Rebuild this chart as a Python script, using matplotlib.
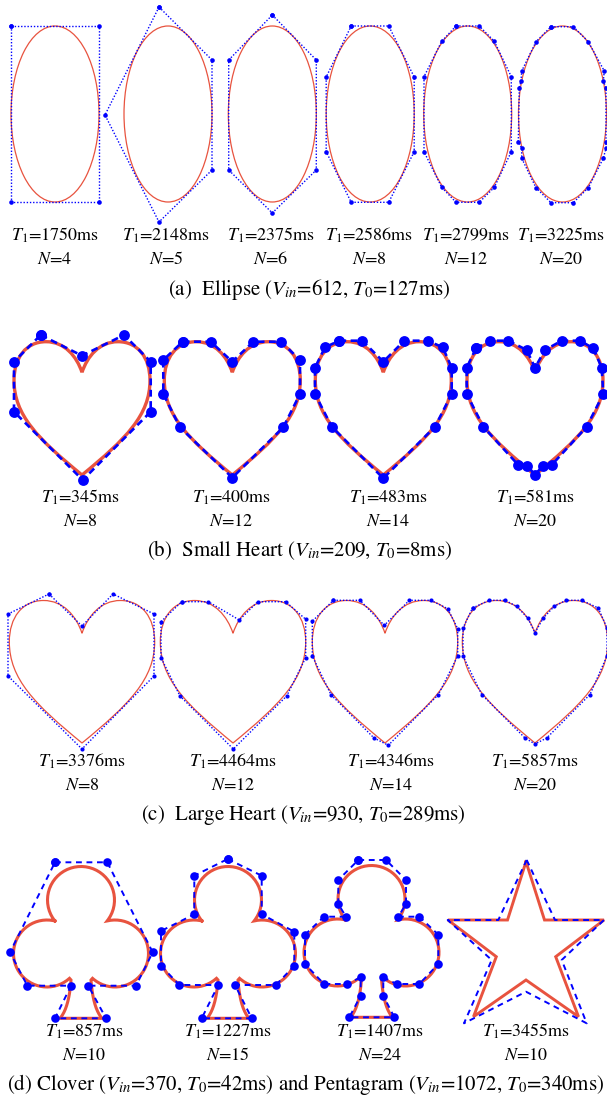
import numpy as np
import matplotlib
matplotlib.use('Agg')
import matplotlib.pyplot as plt
from matplotlib.path import Path
from matplotlib.patches import Ellipse, PathPatch

plt.rcParams['font.family'] = ['STIXGeneral', 'DejaVu Serif']
plt.rcParams['mathtext.fontset'] = 'stix'

RED = '#e8533f'
BLUE = '#0000ff'

# ------------------------------------------------------------------ data
# (a) ellipse: semi axes and control polygons (local coords, px, y down)
ELL_SEMI = (44, 88)
ELL_T1 = [1750, 2148, 2375, 2586, 2799, 3225]
ELL_N = [4, 5, 6, 8, 12, 20]
ELL_P4 = [(-44, -88), (44, -88), (44, 88), (-44, 88)]
ELL_P5 = [(-9, -107), (44, -54), (44, 56), (-9, 108), (-63, 1)]
ELL_P6 = [(0, -99), (44, -54), (44, 56), (0, 99), (-43.6, 56), (-43.6, -54)]
ELL_P8 = [(-19, -88), (18.5, -88), (44, -37), (44, 37.7), (18.5, 88.3),
          (-19, 88.3), (-44, 37.7), (-44, -37)]
ELL_P12 = [(-11.7, -88), (11.6, -88), (26.6, -72.7), (43.6, -37.3), (43.6, 37.7),
           (26.6, 73.3), (11.6, 88.3), (-11.7, 88.3), (-26, 73.3), (-43.7, 37.7),
           (-43.7, -37.3), (-26, -72.7)]
ELL_P20 = [(-11.5, -87.3), (10.8, -87.3), (25.8, -72.3), (41.8, -43), (40.8, -33),
           (43.5, -26.3), (43.5, 27.7), (43.5, 34.3), (40.8, 44.3), (25.8, 73.7),
           (10.8, 88.7), (-11.5, 88.7), (-26.5, 73.7), (-40.8, 44.3), (-40.8, 34.3),
           (-44.2, 27.7), (-43.2, -26.3), (-41.5, -33), (-40.8, -43), (-26.5, -72.3)]

# heart outline: cubic Bezier control points of right half (u, v), unit height
HEART_R = [(0, 0.23), (0.04, 0.11), (0.13, 0.0), (0.27, 0.0),
           (0.42, 0.0), (0.51, 0.12), (0.51, 0.29),
           (0.51, 0.55), (0.33, 0.73), (0, 1)]

# (b) small heart
SH_T1 = [345, 400, 483, 581]
SH_N = [8, 12, 14, 20]
SH_P8 = [(-41.3, -6.7), (0, 14), (42, -6.7), (68.7, 20), (68.7, 70), (0.7, 138.3),
         (-68, 70), (-68, 20)]
SH_P12 = [(-49.6, 0), (-21.6, 0), (0, 20), (21, 0), (48.7, 0), (67.7, 18.3),
          (67.7, 52.3), (51, 85.6), (0, 136), (-52.3, 85.6), (-69, 52.3), (-69, 18.3)]
SH_P14 = [(-44, -1), (-21, -1), (0, 20), (21, -1), (44.4, -1), (59.4, 5.6),
          (68.4, 26), (68.4, 52.3), (51.7, 85), (0, 136.6), (-51.6, 85), (-68.3, 52.3),
          (-68.3, 26), (-58.3, 5.6)]
SH_P20 = [(-59, 6.6), (-45, -1), (-26.7, -1), (-8.3, 8.3), (0, 26), (10, 8.3),
          (26.7, -1), (45, -1), (58.3, 6.6), (66.7, 26), (68.3, 52.3), (51.7, 85),
          (17, 123), (8, 124), (0, 133), (-8, 124), (-17, 123), (-51.7, 85),
          (-68.3, 52.3), (-68.3, 26)]

# (c) large heart
LH_T1 = [3376, 4464, 4346, 5857]
LH_N = [8, 12, 14, 20]
LH_P8 = [(-33, -6.5), (0, 25.5), (31, -6.5), (72, 13.5), (72, 75.5), (0, 148.5),
         (-74, 75.5), (-74, 13.5)]
LH_P12 = [(-51.3, 1.2), (-24.7, 1.2), (6.3, 19.5), (24.7, 1.2), (52.7, 1.2),
          (72.7, 18.8), (72.7, 57.2), (53.7, 95.5), (0.3, 148.5), (-53, 95.5),
          (-72, 57.2), (-72, 21.2)]
LH_P14 = [(-51.7, -0.2), (-25, -0.2), (-0.7, 24.8), (24.3, -0.2), (46, -0.2),
          (62.7, 8.2), (72.7, 28.2), (72.7, 55.5), (53.3, 94.2), (3.3, 144.8),
          (-11, 137.5), (-54, 94.2), (-72.7, 55.5), (-72.7, 20.8)]
LH_P20 = [(-62.5, 7.5), (-45.7, -0.2), (-30, -0.2), (-18.3, 5.8), (-7.3, 17.5),
          (0, 32.2), (8.3, 17.5), (19.3, 5.8), (31, -0.2), (46.7, -0.2), (63.3, 7.5),
          (72, 27.5), (72, 55.5), (55, 94), (11.7, 137.5), (0, 143.5), (-10, 137.5),
          (-53.3, 94), (-72, 55.5), (-72, 27.5)]

# (d) clover geometry (px): lobe radius, lobe centres, stem corners
CLOVER_R = 33.5
CLOVER_TOP = (0, 0)
CLOVER_SIDE = (34, 53.5)
CLOVER_STEM_TOP = (10, 80)
CLOVER_STEM_BOT = (21, 118.3)
CLOVER_STEM_CTRL = (12, 108)
CL_T1 = [857, 1227, 1407]
CL_N = [10, 15, 24]
CL_P10 = [(-26, -37.7), (26.3, -37.7), (71.7, 52.3), (55, 85.7), (7.3, 85.7),
          (25, 118.3), (-26, 118.3), (-10, 85.7), (-53.7, 85.7), (-71, 52.3)]
CL_P15 = [(-0.3, -41), (33.7, -24.3), (33.7, 14.3), (66.3, 31.7), (66.3, 65.7),
          (48, 85), (7, 85), (23.7, 118.3), (-26.3, 118.3), (-9.7, 85), (-48.7, 85),
          (-67, 65.7), (-67, 31), (-33.7, 14.3), (-33.7, -24.3)]
CL_P24 = [(-13.2, -39), (14.5, -39), (34.5, -19), (34.5, 5), (26.8, 17.7),
          (47.8, 17.7), (66.8, 35.7), (66.8, 65), (47.8, 85), (25.2, 85),
          (11.8, 78.3), (11.8, 96.7), (22.8, 118.3), (-22.2, 118.3), (-10.8, 96.7),
          (-10.8, 78.3), (-24.2, 85), (-47.5, 85), (-66.5, 65), (-66.5, 35.7),
          (-47.5, 17.7), (-25.5, 17.7), (-33.2, 5), (-33.2, -19)]

# pentagram
STAR_T1 = 3455
STAR_N = 10
STAR_RED = [(0, -58.3), (18.5, 0), (78, 0), (29.7, 36.7), (52.5, 96.7), (0, 60),
            (-52.5, 96.7), (-29.7, 36.7), (-78, 0), (-18.5, 0)]
STAR_BLUE = [(0.7, -60), (29, 0), (78, 0), (35.7, 40), (60.7, 103.3), (0, 71.7),
             (-62, 103.3), (-34.3, 40), (-78.3, 0), (-27.7, 0)]

# ------------------------------------------------------------------ layout
W, H = 607, 1099
fig = plt.figure(figsize=(W / 100, H / 100), dpi=100)
ax = fig.add_axes([0, 0, 1, 1])
ax.set_xlim(0, W)
ax.set_ylim(H, 0)
ax.axis('off')

LABEL_FS = 13
CAP_FS = 15


def poly(cx, cy, pts, lw, ms, dashes, close=True, markers=True):
    xs = [cx + p[0] for p in pts]
    ys = [cy + p[1] for p in pts]
    if close:
        xs = xs + xs[:1]
        ys = ys + ys[:1]
    ln, = ax.plot(xs, ys, color=BLUE, lw=lw, zorder=3, solid_capstyle='butt')
    ln.set_dashes(dashes)
    if markers:
        ax.plot(xs, ys, 'o', color=BLUE, ms=ms, mec='none', zorder=4)


def labels(cx, y1, y2, t1, n):
    ax.text(cx, y1, r'$T_1$=%dms' % t1, ha='center', va='baseline', fontsize=LABEL_FS)
    ax.text(cx, y2, r'$N$=%d' % n, ha='center', va='baseline', fontsize=LABEL_FS)


def heart_patch(cx, top, h, lw):
    left = [(-u, v) for (u, v) in HEART_R[::-1]][1:]
    pts = HEART_R + left
    verts = [(cx + u * h, top + v * h) for (u, v) in pts]
    codes = [Path.MOVETO] + [Path.CURVE4] * (len(verts) - 1)
    ax.add_patch(PathPatch(Path(verts, codes), fill=False, ec=RED, lw=lw, zorder=2))


def arc_pts(c, r, a0, a1, n=80):
    t = np.radians(np.linspace(a0, a1, n))
    return list(zip(c[0] + r * np.cos(t), c[1] + r * np.sin(t)))


def clover_outline(cx, cy):
    r = CLOVER_R
    T = np.array(CLOVER_TOP, float)
    R = np.array(CLOVER_SIDE, float)
    L = np.array((-CLOVER_SIDE[0], CLOVER_SIDE[1]), float)
    # outer intersection of top lobe with side lobes
    d = R - T
    dist = np.hypot(*d)
    m = T + d / 2
    hh = np.sqrt(max(r * r - (dist / 2) ** 2, 0))
    perp = np.array([d[1], -d[0]]) / dist
    cusp_r = m + hh * perp
    cusp_l = np.array([-cusp_r[0], cusp_r[1]])
    ang = lambda c, p: np.degrees(np.arctan2(p[1] - c[1], p[0] - c[0]))
    st_r = np.array(CLOVER_STEM_TOP, float)
    st_l = np.array((-st_r[0], st_r[1]))
    a0 = ang(T, cusp_l)
    a1 = ang(T, cusp_r) + 360
    pts = arc_pts(T, r, a0, a1)
    b0 = ang(R, cusp_r) % 360
    b1 = ang(R, st_r) % 360 + 360
    pts += arc_pts(R, r, b0, b1)
    pts.append(tuple(st_r))
    # stem right side (quadratic bezier)
    sb = np.array(CLOVER_STEM_BOT, float)
    sc = np.array(CLOVER_STEM_CTRL, float)
    for t in np.linspace(0, 1, 30):
        pts.append(tuple((1 - t) ** 2 * st_r + 2 * t * (1 - t) * sc + t ** 2 * sb))
    sb_l = np.array((-sb[0], sb[1]))
    sc_l = np.array((-sc[0], sc[1]))
    for t in np.linspace(0, 1, 30):
        pts.append(tuple((1 - t) ** 2 * sb_l + 2 * t * (1 - t) * sc_l + t ** 2 * st_l))
    c0 = ang(L, st_l) % 360
    c1 = ang(L, cusp_l) % 360
    if c1 < c0:
        c1 += 360
    pts += arc_pts(L, r, c0, c1)
    pts.append(pts[0])
    xs = [cx + p[0] for p in pts]
    ys = [cy + p[1] for p in pts]
    ax.plot(xs, ys, color=RED, lw=2.2, zorder=2, solid_joinstyle='miter')


# ---- row (a): ellipses
ELL_CX = [55, 168, 272.3, 370.2, 467.7, 562.5]
ELL_CY = 114
ELL_LBL_X = [55, 166, 271, 369, 466, 561]
for i, P in enumerate([ELL_P4, ELL_P5, ELL_P6, ELL_P8, ELL_P12, ELL_P20]):
    ax.add_patch(Ellipse((ELL_CX[i], ELL_CY), 2 * ELL_SEMI[0], 2 * ELL_SEMI[1],
                         fill=False, ec=RED, lw=0.9, zorder=2))
    poly(ELL_CX[i], ELL_CY, P, 1.0, 3.3, (1, 1.3))
    labels(ELL_LBL_X[i], 240.7, 263.5, ELL_T1[i], ELL_N[i])
ax.text(309, 295, r'(a)  Ellipse ($V_{in}$=612, $T_0$=127ms)', ha='center',
        va='baseline', fontsize=CAP_FS)

# ---- row (b): small hearts
SH_CX = [82, 232.3, 383.3, 535]
SH_TOP = 341.7
SH_H = 133.3
SH_LBL_X = [80, 231, 388, 535]
for i, P in enumerate([SH_P8, SH_P12, SH_P14, SH_P20]):
    heart_patch(SH_CX[i], SH_TOP, SH_H, 2.4)
    poly(SH_CX[i], SH_TOP, P, 1.9, 7.8, (2.6, 1.7))
    labels(SH_LBL_X[i], 502.7, 525.7, SH_T1[i], SH_N[i])
ax.text(300, 556, r'(b)  Small Heart ($V_{in}$=209, $T_0$=8ms)', ha='center',
        va='baseline', fontsize=CAP_FS)

# ---- row (c): large hearts
LH_CX = [82, 233, 385, 535]
LH_TOP = 600.5
LH_H = 142.5
LH_LBL_X = [82, 233, 391, 535]
for i, P in enumerate([LH_P8, LH_P12, LH_P14, LH_P20]):
    heart_patch(LH_CX[i], LH_TOP, LH_H, 0.9)
    poly(LH_CX[i], LH_TOP, P, 1.0, 3.0, (1, 1.3))
    labels(LH_LBL_X[i], 766.7, 789.5, LH_T1[i], LH_N[i])
ax.text(303, 820, r'(c)  Large Heart ($V_{in}$=930, $T_0$=289ms)', ha='center',
        va='baseline', fontsize=CAP_FS)

# ---- row (d): clovers and pentagram
CL_CX = [81, 228, 371.5]
CL_CY = [900, 900, 899]
CL_LBL_X = [84, 228, 380]
for i, P in enumerate([CL_P10, CL_P15, CL_P24]):
    clover_outline(CL_CX[i], CL_CY[i])
    poly(CL_CX[i], CL_CY[i], P, 1.4, 6.2, (3.0, 2.4))
    labels(CL_LBL_X[i], 1036.7, 1060, CL_T1[i], CL_N[i])
STAR_C = (526, 920)
sx = [STAR_C[0] + p[0] for p in STAR_RED] + [STAR_C[0] + STAR_RED[0][0]]
sy = [STAR_C[1] + p[1] for p in STAR_RED] + [STAR_C[1] + STAR_RED[0][1]]
ax.plot(sx, sy, color=RED, lw=2.1, zorder=2, solid_joinstyle='miter')
poly(STAR_C[0], STAR_C[1], STAR_BLUE, 1.4, 0, (3.0, 2.4), markers=False)
labels(526, 1036.7, 1060, STAR_T1, STAR_N)
ax.text(306, 1090, r'(d) Clover ($V_{in}$=370, $T_0$=42ms) and Pentagram ($V_{in}$=1072, $T_0$=340ms)',
        ha='center', va='baseline', fontsize=CAP_FS)

fig.savefig('out.png', dpi=100)
